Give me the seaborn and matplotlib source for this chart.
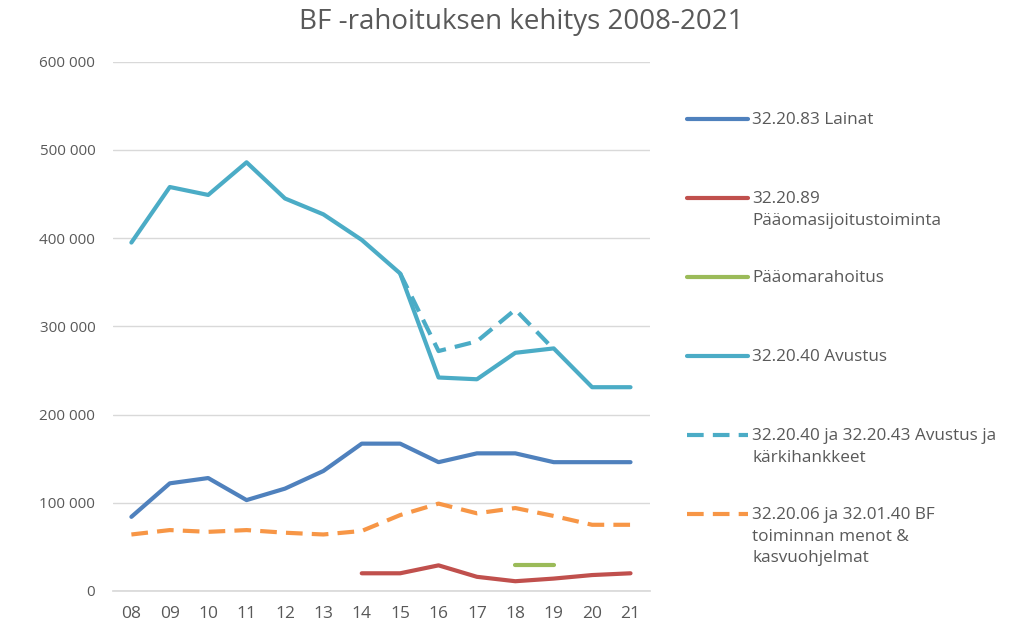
import numpy as np
import pandas as pd
import matplotlib.pyplot as plt
from matplotlib.lines import Line2D
from matplotlib.ticker import FuncFormatter
import seaborn as sns

sns.set_theme(style="white")
plt.rcParams["font.family"] = ["Open Sans", "DejaVu Sans"]

YEARS = ["08", "09", "10", "11", "12", "13", "14", "15", "16", "17", "18", "19", "20", "21"]

lainat = [84000, 122000, 128000, 103000, 116000, 136000, 167000, 167000,
          146000, 156000, 156000, 146000, 146000, 146000]
paaomasij = [None, None, None, None, None, None, 20000, 20000,
             29000, 16000, 11000, 14000, 18000, 20000]
paaomarah = [None] * 10 + [29000, 29000, None, None]
avustus = [395000, 458000, 449000, 486000, 445000, 427000, 398000, 360000,
           242000, 240000, 270000, 275000, 231000, 231000]
avustus_kark = [None] * 7 + [360000, 272000, 283000, 319000, 274000, None, None]
toiminta = [64000, 69000, 67000, 69000, 66000, 64000, 68000, 86000,
            99000, 88000, 94000, 85000, 75000, 75000]

series = [
    ("32.20.83 Lainat", lainat, "#4F81BD", "-"),
    ("32.20.89\nPääomasijoitustoiminta", paaomasij, "#C0504D", "-"),
    ("Pääomarahoitus", paaomarah, "#9BBB59", "-"),
    ("32.20.40 Avustus", avustus, "#4BACC6", "-"),
    ("32.20.40 ja 32.20.43 Avustus ja\nkärkihankkeet", avustus_kark, "#4BACC6", "--"),
    ("32.20.06 ja 32.01.40 BF\ntoiminnan menot &\nkasvuohjelmat", toiminta, "#F79646", "--"),
]

fig = plt.figure(figsize=(10.12, 6.24), dpi=100)
ax = fig.add_axes([0.112, 0.053, 0.530, 0.848])

x = np.arange(len(YEARS))
# draw dashed first so the solid lines sit on top
order = [4, 5, 0, 1, 2, 3]
for i in order:
    label, vals, color, ls = series[i]
    df = pd.DataFrame({"x": x, "y": pd.array(vals, dtype="Float64").astype(float)})
    sns.lineplot(data=df, x="x", y="y", ax=ax, color=color, linestyle=ls,
                 linewidth=3, legend=False)
    if ls == "--":
        ax.lines[-1].set_dashes([4, 2.2])

ax.set_xlim(-0.47, 13.5)
ax.set_ylim(0, 600000)
ax.set_xticks(x)
ax.set_xticklabels(YEARS)
ax.set_yticks(np.arange(0, 600001, 100000))
ax.yaxis.set_major_formatter(FuncFormatter(lambda v, p: f"{int(v):,}".replace(",", " ")))
ax.set_xlabel("")
ax.set_ylabel("")
ax.grid(axis="y", color="#D9D9D9", linewidth=1)
ax.set_axisbelow(True)
for s in ["top", "right", "left"]:
    ax.spines[s].set_visible(False)
ax.spines["bottom"].set_color("#D9D9D9")
ax.tick_params(axis="y", length=0, labelsize=11, colors="#595959", pad=13)
ax.tick_params(axis="x", length=0, labelsize=12.5, colors="#595959", pad=11)

fig.text(0.515, 0.965, "BF -rahoituksen kehitys 2008-2021", ha="center", va="center",
         fontsize=20, color="#595959")

# legend drawn by hand, handle aligned with first text line
y0 = 1 - 119 / 624
step = 79 / 624
for k, (label, vals, color, ls) in enumerate(series):
    yy = y0 - k * step
    ln = Line2D([687 / 1012, 748 / 1012], [yy, yy], color=color, linewidth=3,
                linestyle=ls, transform=fig.transFigure)
    if ls == "--":
        ln.set_dashes([4, 2.2])
    fig.add_artist(ln)
    fig.text(752 / 1012, yy + 0.011, label, ha="left", va="top", fontsize=12.3,
             color="#595959", linespacing=1.45)

fig.savefig("out.png", dpi=100)
